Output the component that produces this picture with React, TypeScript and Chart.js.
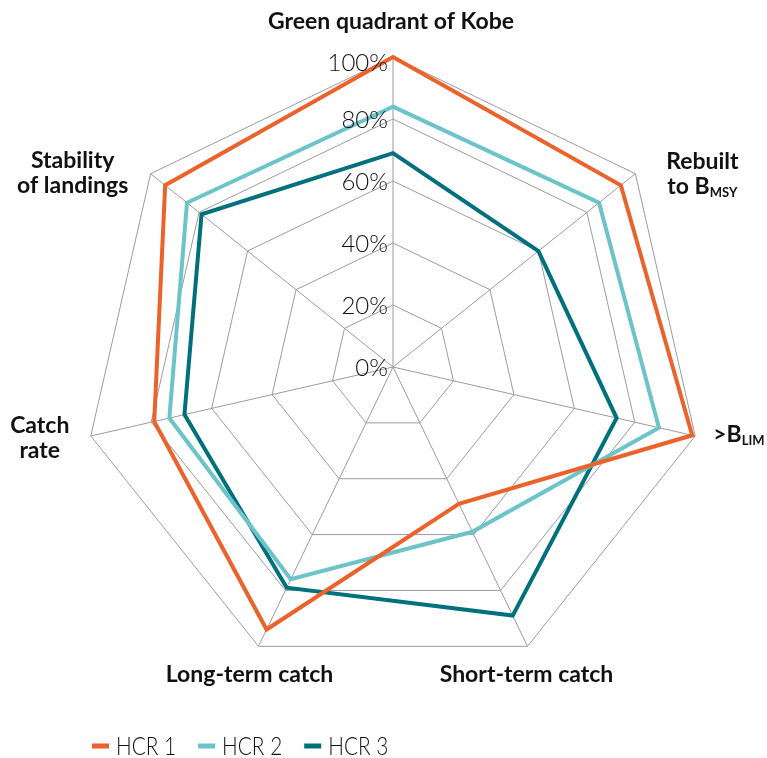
import React, { useEffect, useRef } from "react";
import { Chart, registerables } from "chart.js";

Chart.register(...registerables);

// ---- data ----
const categories = [
  "Green quadrant of Kobe",
  "Rebuilt to BMSY",
  ">BLIM",
  "Short-term catch",
  "Long-term catch",
  "Catch rate",
  "Stability of landings",
];
const hcr1 = [100, 94, 99, 49, 94, 79, 94];
const hcr2 = [84, 85, 88, 59, 76, 74, 85];
const hcr3 = [69, 60, 74, 89, 79, 69, 79];
const seriesNames = ["HCR 1", "HCR 2", "HCR 3"];
const seriesColors = ["#EC622B", "#6CC3C8", "#00707D"];
const tickValues = [0, 20, 40, 60, 80, 100];

// label lines: segments, sub = subscript
type Seg = { t: string; sub?: boolean };
const labelLines: Seg[][][] = [
  [[{ t: "Green quadrant of Kobe" }]],
  [[{ t: "Rebuilt" }], [{ t: "to B" }, { t: "MSY", sub: true }]],
  [[{ t: ">B" }, { t: "LIM", sub: true }]],
  [[{ t: "Short-term catch" }]],
  [[{ t: "Long-term catch" }]],
  [[{ t: "Catch" }], [{ t: "rate" }]],
  [[{ t: "Stability" }], [{ t: "of landings" }]],
];
// placement relative to the axis end (align, dx, dy of first baseline)
const labelPlace: { align: "center" | "left"; dx: number; dy: number }[] = [
  { align: "center", dx: -2, dy: -28 },
  { align: "center", dx: 67, dy: -5 },
  { align: "left", dx: 18, dy: 6 },
  { align: "center", dx: -1, dy: 36 },
  { align: "center", dx: -9, dy: 36 },
  { align: "center", dx: -51, dy: -3 },
  { align: "center", dx: -78, dy: -6 },
];

const FONT_BOLD = "bold 23px Lato";
const FONT_SUB = "bold 13px Lato";
const FONT_LIGHT = "300 24px Lato";
const FONT_LEGEND = "300 26px Lato";
const TEXT = "#111111";

const overlay = {
  id: "overlay",
  afterDraw(chart: any) {
    const ctx = chart.ctx as CanvasRenderingContext2D;
    const scale = chart.scales.r;
    ctx.save();
    // tick labels
    ctx.font = FONT_LIGHT;
    ctx.fillStyle = TEXT;
    ctx.textAlign = "right";
    ctx.textBaseline = "alphabetic";
    tickValues.forEach((v) => {
      const d = scale.getDistanceFromCenterForValue(v);
      const y = scale.yCenter - d + (v === 100 ? 14 : 8.5);
      ctx.fillText(v + "%", scale.xCenter - 5, y);
    });
    // point labels
    labelLines.forEach((lines, i) => {
      const p = scale.getPointPosition(i, scale.drawingArea);
      const pl = labelPlace[i];
      lines.forEach((segs, li) => {
        const widths = segs.map((s) => {
          ctx.font = s.sub ? FONT_SUB : FONT_BOLD;
          return ctx.measureText(s.t).width;
        });
        const total = widths.reduce((a, b) => a + b, 0);
        let x = pl.align === "center" ? p.x + pl.dx - total / 2 : p.x + pl.dx;
        const y = p.y + pl.dy + li * 25;
        ctx.textAlign = "left";
        segs.forEach((s, si) => {
          ctx.font = s.sub ? FONT_SUB : FONT_BOLD;
          ctx.fillText(s.t, x, s.sub ? y + 3 : y);
          x += widths[si];
        });
      });
    });
    // legend
    ctx.font = FONT_LEGEND;
    ctx.textAlign = "left";
    const sx = 0.8;
    let lx = 92;
    seriesNames.forEach((name, i) => {
      ctx.fillStyle = seriesColors[i];
      ctx.fillRect(lx, 743.5, 17, 5);
      ctx.fillStyle = TEXT;
      const w = ctx.measureText(name).width * sx;
      ctx.save();
      ctx.translate(lx + 24, 755);
      ctx.scale(sx, 1);
      ctx.fillText(name, 0, 0);
      ctx.restore();
      lx += 24 + w + 22;
    });
    ctx.restore();
  },
};

export default function App() {
  const ref = useRef<HTMLCanvasElement>(null);
  useEffect(() => {
    document.body.style.margin = "0";
    const chart = new Chart(ref.current!, {
      type: "radar",
      data: {
        labels: categories,
        datasets: [hcr1, hcr2, hcr3].map((d, i) => ({
          label: seriesNames[i],
          data: d,
          borderColor: seriesColors[i],
          backgroundColor: seriesColors[i],
          borderWidth: 4,
          borderJoinStyle: "miter" as const,
          pointRadius: 0,
          pointHoverRadius: 0,
          fill: false,
          tension: 0,
        })),
      },
      options: {
        responsive: false,
        animation: false,
        layout: { padding: { left: 83, top: 57, right: 64, bottom: 81 } },
        plugins: { legend: { display: false }, tooltip: { enabled: false } },
        scales: {
          r: {
            min: 0,
            max: 100,
            ticks: { display: false, stepSize: 20 },
            pointLabels: { display: false },
            grid: { color: "#9b9b9b", lineWidth: 1 },
            angleLines: { color: "#9b9b9b", lineWidth: 1 },
          },
        },
      },
      plugins: [overlay],
    });
    return () => chart.destroy();
  }, []);
  return (
    <div style={{ width: 767, height: 758, background: "#fff" }}>
      <canvas ref={ref} width={767} height={758} style={{ display: "block" }} />
    </div>
  );
}
